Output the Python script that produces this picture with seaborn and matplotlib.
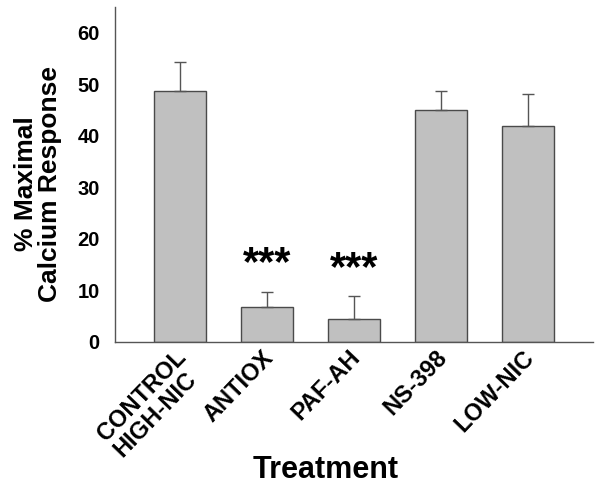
import numpy as np
import pandas as pd
import matplotlib
matplotlib.use("Agg")
import matplotlib.pyplot as plt
import matplotlib.transforms as mtransforms
import seaborn as sns

treatments = ["CONTROL\nHIGH-NIC", "ANTIOX", "PAF-AH", "NS-398", "LOW-NIC"]
response = [48.7, 6.8, 4.4, 45.0, 41.9]
sem = [5.5, 2.8, 4.5, 3.7, 6.1]
stars = ["", "***", "***", "", ""]
star_y = [0, 13.0, 12.0, 0, 0]

sns.set_theme(style="white")
plt.rcParams["font.family"] = ["Liberation Sans", "DejaVu Sans"]
plt.rcParams["font.weight"] = "bold"
plt.rcParams["text.color"] = "black"
plt.rcParams["axes.labelcolor"] = "black"
plt.rcParams["xtick.color"] = "black"
plt.rcParams["ytick.color"] = "black"

df = pd.DataFrame({"Treatment": treatments, "Response": response})

fig = plt.figure(figsize=(6.01, 4.86), dpi=100)
ax = fig.add_axes([0.191, 0.297, 0.796, 0.689])

sns.barplot(data=df, x="Treatment", y="Response", color="#c0c0c0",
            edgecolor="#4a4a4a", linewidth=1.0, width=0.6, saturation=1,
            errorbar=None, ax=ax)

xs = np.arange(len(treatments))
ax.errorbar(xs, response, yerr=[np.zeros(len(sem)), sem], fmt="none",
            ecolor="#555555", elinewidth=1.0, capsize=4.5, capthick=1.0, zorder=1)

for x, s, y in zip(xs, stars, star_y):
    if s:
        ax.text(x, y, s, ha="center", va="baseline", fontsize=30, fontweight="bold")

ax.set_xlim(-0.75, 4.75)
ax.set_ylim(0, 65)
ax.set_yticks([0, 10, 20, 30, 40, 50, 60])
ax.tick_params(axis="y", direction="out", length=4, width=1, color="#555555",
               labelsize=14.5, pad=7)
ax.tick_params(axis="x", length=0, labelsize=17, pad=4)
shift = mtransforms.ScaledTranslation(-4 / 72, 1 / 72, fig.dpi_scale_trans)
for lbl in ax.get_xticklabels():
    lbl.set_rotation(46)
    lbl.set_ha("right")
    lbl.set_va("top")
    lbl.set_rotation_mode("anchor")
    lbl.set_multialignment("left")
    lbl.set_linespacing(1.0)
    lbl.set_transform(lbl.get_transform() + shift)

for side in ["top", "right"]:
    ax.spines[side].set_visible(False)
for side in ["left", "bottom"]:
    ax.spines[side].set_color("#555555")
    ax.spines[side].set_linewidth(1.0)

ax.set_ylabel("% Maximal\nCalcium Response", fontsize=19, fontweight="bold",
              linespacing=1.0)
ax.yaxis.set_label_coords(-0.111, 0.471)
ax.set_xlabel("Treatment", fontsize=22, fontweight="bold")
ax.xaxis.set_label_coords(0.441, -0.337)

fig.savefig("out.png", dpi=100)
